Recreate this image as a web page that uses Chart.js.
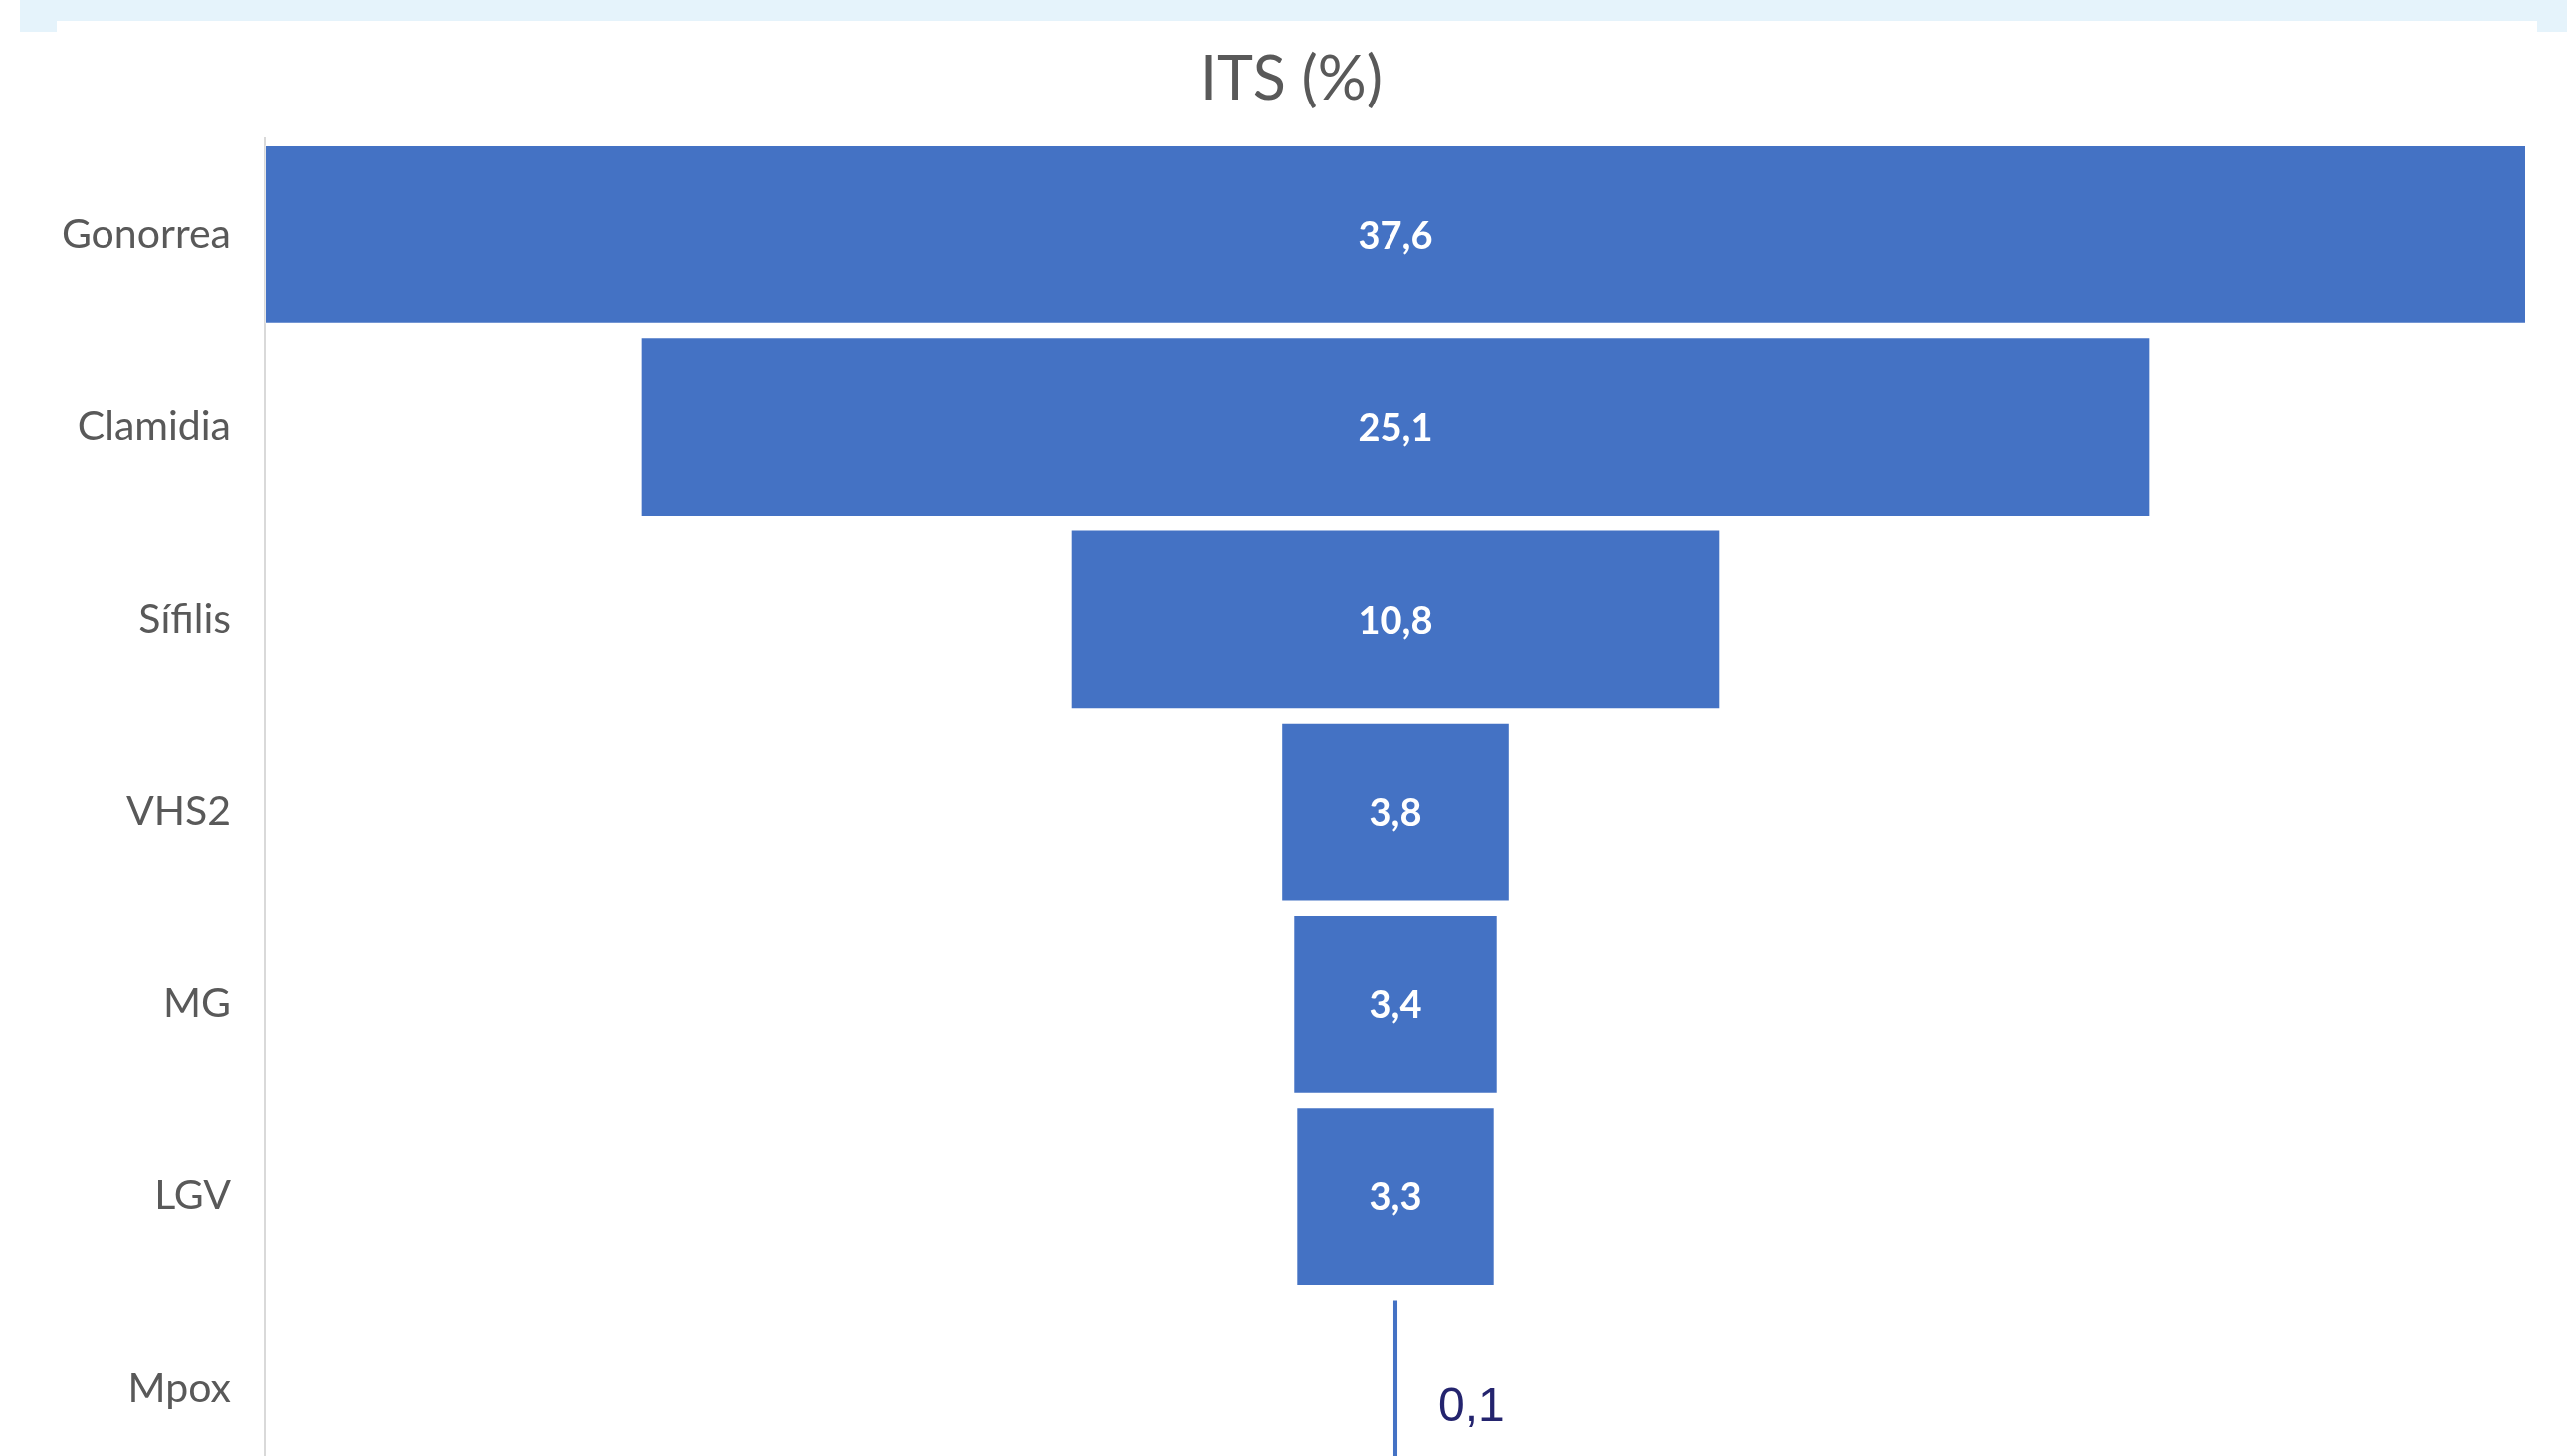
<!DOCTYPE html>
<html>
<head>
<meta charset="utf-8">
<title>ITS (%)</title>
<script src="https://cdn.jsdelivr.net/npm/chart.js@4/dist/chart.umd.min.js"></script>
<style>
    body{margin:0;background:#fff;overflow:hidden;width:2579px;height:1463px;position:relative;}
    #franja{position:absolute;left:20px;top:0;width:2559px;height:32px;background:#e5f3fb;}
    #panel{position:absolute;left:57px;top:21px;width:2492px;height:1471px;background:#fff;}
    canvas{display:block;}
</style>
</head>
<body>
<div id="franja"></div>
<div id="panel"><canvas id="myChart" width="2492" height="1471"></canvas></div>
<script>
//datos
const categorias=['Gonorrea','Clamidia','Sífilis','VHS2','MG','LGV','Mpox'];
const porcentajes=[37.6,25.1,10.8,3.8,3.4,3.3,0.1];
const titulo='ITS (%)';

//barras centradas (embudo)
const tramos=porcentajes.map(v=>[-v/2,v/2]);
const mitad=Math.max(...porcentajes)/2;

const formato=(v)=>v.toFixed(1).replace('.',',');

//etiquetas de valores
const etiquetas={
    id:'etiquetas',
    afterDatasetsDraw(chart){
        const ctx=chart.ctx;
        const meta=chart.getDatasetMeta(0);
        ctx.save();
        meta.data.forEach((barra,i)=>{
            const v=porcentajes[i];
            const izq=Math.min(barra.x,barra.base);
            const der=Math.max(barra.x,barra.base);
            if(v>=1){
                ctx.font='bold 38px Lato';
                ctx.fillStyle='#ffffff';
                ctx.textAlign='center';
                ctx.textBaseline='middle';
                ctx.fillText(formato(v),(izq+der)/2,barra.y+2);
            }else{
                ctx.font='48px "Liberation Sans"';
                ctx.fillStyle='#24246e';
                ctx.textAlign='left';
                ctx.textBaseline='middle';
                ctx.fillText(formato(v),der+40,barra.y+19);
            }
        });
        ctx.restore();
    }
};

const ctx=document.getElementById('myChart');
const myChart=new Chart(ctx,{
    type:'bar',
    data:{
        labels:categorias,
        datasets:[{
            label:titulo,
            data:tramos,
            backgroundColor:'#4472c4',
            borderColor:'rgba(255,255,255,0.35)',
            borderWidth:1,
            borderSkipped:false,
            categoryPercentage:1,
            barPercentage:0.93
        }]
    },
    options:{
        indexAxis:'y',
        responsive:false,
        animation:false,
        layout:{padding:{top:0,left:0,right:11,bottom:0}},
        plugins:{
            legend:{display:false},
            tooltip:{enabled:false},
            title:{
                display:true,
                text:titulo,
                color:'#595959',
                font:{family:'Lato',size:61,weight:'normal',lineHeight:1.2},
                padding:{top:23,bottom:22}
            }
        },
        scales:{
            x:{
                display:false,
                min:-mitad,
                max:mitad
            },
            y:{
                grid:{display:false,drawTicks:false},
                border:{display:true,color:'#d9d9d9',width:2},
                ticks:{
                    color:'#595959',
                    font:{family:'Lato',size:41},
                    padding:34
                },
                afterFit:(eje)=>{
                    eje.width=209;
                    eje.paddingTop=0;
                    eje.paddingBottom=0;
                }
            }
        }
    },
    plugins:[etiquetas]
});
</script>
</body>
</html>
